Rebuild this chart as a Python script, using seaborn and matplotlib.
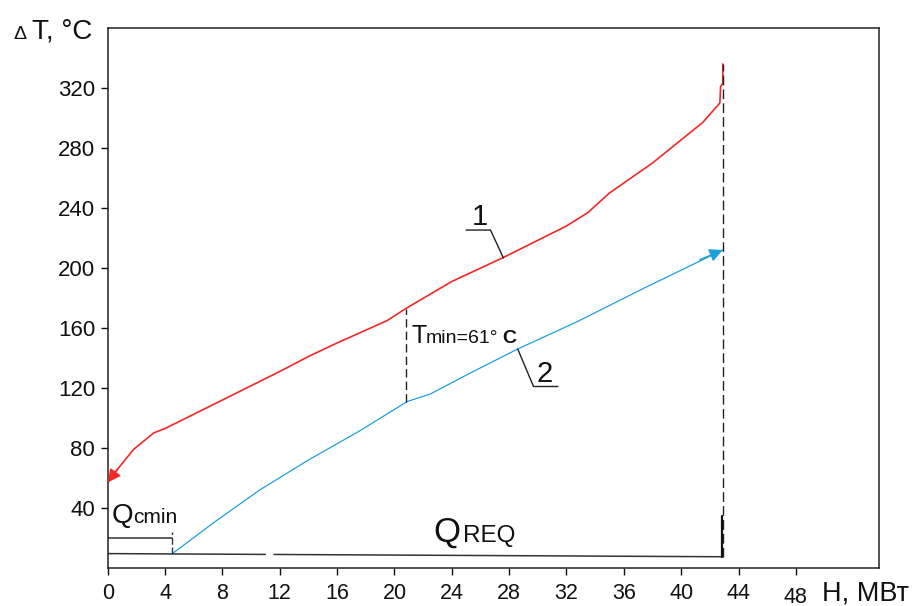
import matplotlib
matplotlib.use("Agg")
import matplotlib.pyplot as plt
import seaborn as sns

# ---- data ----
red_x = [0.0, 0.7, 1.8, 3.2, 4.0, 8.0, 12.0, 14.0, 16.0, 19.5, 20.8, 24.0, 27.6,
         32.0, 33.5, 35.0, 38.0, 41.5, 42.7, 42.75, 42.9, 42.9]
red_y = [57, 66, 79, 90, 93, 112, 131, 141, 150, 165, 173, 191, 207,
         228, 237, 250, 270, 297, 310, 321, 323, 336]

blue_x = [4.5, 7.5, 10.6, 14.0, 17.5, 20.9, 22.5, 25.5, 28.6, 32.7, 37.5, 42.9]
blue_y = [9.5, 31, 52, 72, 91, 111, 116, 131, 146, 164, 187, 212]

qreq_x = [0.0, 42.9]
qreq_y = [9.6, 7.5]
qreq_gap = [11.0, 11.6]
qcmin_x = [0.0, 4.5]
qcmin_y = [19.7, 19.7]

tmin_x = 20.8
tmin_y = [111, 173]
end_x = 42.95
end_y = [7.5, 336]

x_ticks = list(range(0, 52, 4))
y_ticks = list(range(40, 360, 40))

RED = "#f02828"
BLUE = "#1e9fdc"
INK = "#111111"

sns.set_style("ticks")
plt.rcParams["font.family"] = ["Liberation Sans", "DejaVu Sans"]

fig = plt.figure(figsize=(9.19, 6.06), dpi=100)
ax = fig.add_axes([0.1172, 0.0627, 0.8393, 0.8911])

sns.lineplot(x=red_x, y=red_y, sort=False, estimator=None, color=RED, lw=1.2, ax=ax)
sns.lineplot(x=blue_x, y=blue_y, sort=False, estimator=None, color=BLUE, lw=0.9, ax=ax)

# arrowheads
ax.annotate("", xy=(red_x[0], red_y[0]), xytext=(red_x[1], red_y[1]),
            arrowprops=dict(arrowstyle="-|>", color=RED, lw=1.0,
                            mutation_scale=20, shrinkA=0, shrinkB=0))
ax.annotate("", xy=(blue_x[-1], blue_y[-1]), xytext=(41.3, 205.5),
            arrowprops=dict(arrowstyle="-|>", color=BLUE, lw=1.0,
                            mutation_scale=20, shrinkA=0, shrinkB=0))

# Q_REQ baseline with gap
def yq(x):
    return qreq_y[0] + (qreq_y[1] - qreq_y[0]) * (x - qreq_x[0]) / (qreq_x[1] - qreq_x[0])

ax.plot([qreq_x[0], qreq_gap[0]], [yq(qreq_x[0]), yq(qreq_gap[0])], color="#333333", lw=1.1)
ax.plot([qreq_gap[1], qreq_x[1]], [yq(qreq_gap[1]), yq(qreq_x[1])], color="#333333", lw=1.1)
ax.plot(qcmin_x, qcmin_y, color="#333333", lw=1.1)
ax.plot([4.5, 4.5], [9.5, 24], color="#333333", lw=1.0, ls=(0, (5, 2)))

# dashed verticals
ax.plot([tmin_x, tmin_x], tmin_y, color="#222222", lw=1.0, ls=(0, (6, 3)))
ax.plot([end_x, end_x], end_y, color="#222222", lw=1.0, ls=(0, (7, 3)))
ax.plot([42.85, 42.85], [7.5, 35], color=INK, lw=1.6)

# leaders for curve labels
ax.plot([25.0, 26.7, 27.6], [225.3, 225.3, 206.7], color="#222222", lw=1.0)
ax.plot([28.6, 29.7, 31.4], [146, 121, 121], color="#222222", lw=1.0)
ax.text(25.4, 228.7, "1", fontsize=21, va="baseline", ha="left", color=INK)
ax.text(29.9, 124, "2", fontsize=21, va="baseline", ha="left", color=INK)

# annotations
ax.text(21.2, 150, "T", fontsize=18, va="baseline", ha="left", color=INK)
ax.text(22.15, 150, "min=61°", fontsize=14, va="baseline", ha="left", color=INK)
ax.text(27.55, 150, "C", fontsize=14, va="baseline", ha="left", fontweight="bold", color=INK)

ax.text(0.25, 30, "Q", fontsize=20, va="baseline", ha="left", color=INK)
ax.text(1.75, 30, "cmin", fontsize=15, va="baseline", ha="left", color=INK)
ax.text(22.7, 17.3, "Q", fontsize=25, va="baseline", ha="left", color=INK)
ax.text(24.75, 17.3, "REQ", fontsize=17.5, va="baseline", ha="left", color=INK)

# axes
ax.set_xlim(0, 53.8)
ax.set_ylim(0, 360)
ax.set_xticks(x_ticks)
ax.set_yticks(y_ticks)
ax.set_xticklabels([("" if v == 48 else str(v)) for v in x_ticks])
ax.set_yticklabels([str(v) for v in y_ticks])
ax.tick_params(axis="both", direction="out", length=5, width=1.0, labelsize=16,
               colors=INK, pad=4)
ax.tick_params(axis="x", pad=6, labelsize=15.5)
for s in ax.spines.values():
    s.set_visible(True)
    s.set_color("#222222")
    s.set_linewidth(1.1)
ax.set_xlabel("")
ax.set_ylabel("")

# "48" sits a little lower than the other tick labels
ax.annotate("48", xy=(48, 0), xycoords=("data", "axes fraction"),
            xytext=(0, -13.5), textcoords="offset points", ha="center", va="top",
            fontsize=15.5, color=INK)

# axis titles
fig.text(13 / 919, 1 - 39 / 606, "Δ", fontsize=14, va="baseline", ha="left", color=INK)
fig.text(32 / 919, 1 - 39 / 606, "T, °C", fontsize=20, va="baseline", ha="left", color=INK)
fig.text(822 / 919, 1 - 600 / 606, "H, МВт", fontsize=19.5, va="baseline", ha="left", color=INK)

fig.savefig("out.png", dpi=100)
